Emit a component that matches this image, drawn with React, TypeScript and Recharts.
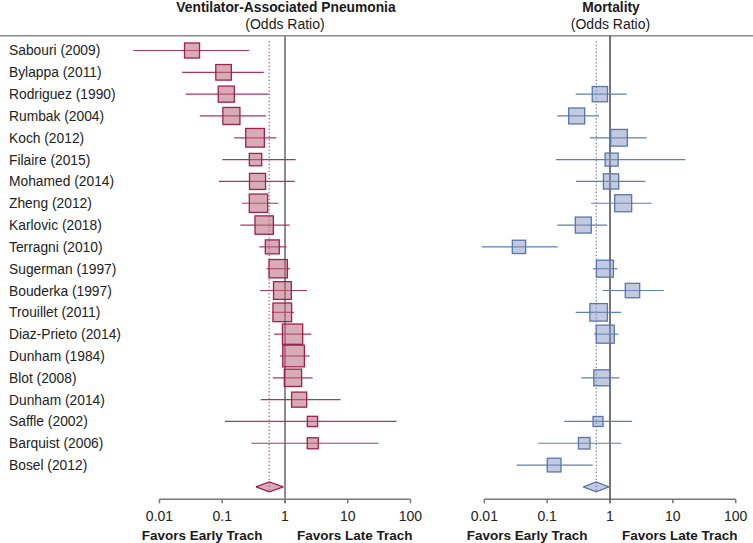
import React from 'react';
import { ComposedChart, Scatter, ErrorBar, XAxis, YAxis, ReferenceLine, Area } from 'recharts';

// ---------- data ----------
const studies = [
  'Sabouri (2009)', 'Bylappa (2011)', 'Rodriguez (1990)', 'Rumbak (2004)', 'Koch (2012)',
  'Filaire (2015)', 'Mohamed (2014)', 'Zheng (2012)', 'Karlovic (2018)', 'Terragni (2010)',
  'Sugerman (1997)', 'Bouderka (1997)', 'Trouillet (2011)', 'Diaz-Prieto (2014)', 'Dunham (1984)',
  'Blot (2008)', 'Dunham (2014)', 'Saffle (2002)', 'Barquist (2006)', 'Bosel (2012)',
];

// Ventilator-associated pneumonia: odds ratio, 95% CI, relative weight (%)
const vapOR = [0.033, 0.105, 0.116, 0.14, 0.333, 0.339, 0.365, 0.378, 0.466, 0.628, 0.78, 0.91, 0.905, 1.32, 1.37, 1.34, 1.68, 2.74, 2.77, null];
const vapLow = [0.0038, 0.023, 0.026, 0.044, 0.155, 0.1, 0.088, 0.206, 0.194, 0.39, 0.51, 0.4, 0.62, 0.67, 0.83, 0.64, 0.41, 0.11, 0.29, null];
const vapHigh = [0.27, 0.46, 0.55, 0.5, 0.73, 1.48, 1.43, 0.78, 1.19, 1.06, 1.2, 2.24, 1.39, 2.63, 2.47, 2.76, 7.7, 60, 31, null];
const vapWeight = [4.3, 4.6, 4.9, 5.5, 6.6, 2.9, 4.9, 6.4, 6.4, 3.7, 6.4, 6.0, 6.6, 7.8, 8.9, 5.7, 4.3, 2.0, 2.3, null];
const vapPooled = { or: 0.56, low: 0.345, high: 0.94 };

// Mortality: odds ratio, 95% CI, relative weight (%)
const mortOR = [null, null, 0.69, 0.295, 1.39, 1.06, 1.04, 1.62, 0.376, 0.0356, 0.83, 2.28, 0.66, 0.84, null, 0.74, null, 0.645, 0.389, 0.129];
const mortLow = [null, null, 0.284, 0.145, 0.48, 0.138, 0.288, 0.5, 0.145, 0.0091, 0.54, 0.765, 0.284, 0.556, null, 0.35, null, 0.187, 0.072, 0.0327];
const mortHigh = [null, null, 1.84, 0.67, 3.84, 15.8, 3.65, 4.6, 0.9, 0.147, 1.31, 7.16, 1.5, 1.36, null, 1.41, null, 2.24, 1.5, 0.53];
const mortWeight = [null, null, 6.3, 6.9, 7.5, 4.6, 6.3, 7.8, 6.9, 4.8, 7.8, 5.6, 8.3, 8.8, null, 6.9, null, 2.7, 3.6, 5.1];
const mortPooled = { or: 0.605, low: 0.376, high: 0.96 };

const xTicks = [0.01, 0.1, 1, 10, 100];
const xTickLabels = ['0.01', '0.1', '1', '10', '100'];
const favorsLeft = 'Favors Early Trach';
const favorsRight = 'Favors Late Trach';

// ---------- layout / style constants ----------
const FONT = '"Liberation Sans", Arial, Helvetica, sans-serif';
const H = 543;
const ROW_DOMAIN = [-0.6645, 20.568];
const POOLED_ROW = 20;
const DIAMOND_HALF = 0.229;
const rowTicks = studies.map((_, i) => i);

function buildRows(or, low, high, weight) {
  return studies
    .map((name, i) =>
      or[i] == null
        ? null
        : { name, row: i, x: or[i], err: [or[i] - low[i], high[i] - or[i]], weight: weight[i] }
    )
    .filter(Boolean);
}

function buildDiamond(p) {
  return [
    { x: p.low, band: [POOLED_ROW, POOLED_ROW] },
    { x: p.or, band: [POOLED_ROW - DIAMOND_HALF, POOLED_ROW + DIAMOND_HALF] },
    { x: p.high, band: [POOLED_ROW, POOLED_ROW] },
  ];
}

const vapRows = buildRows(vapOR, vapLow, vapHigh, vapWeight);
const mortRows = buildRows(mortOR, mortLow, mortHigh, mortWeight);

function makeBox(k, fill, fillOpacity, stroke) {
  return (props) => {
    const { cx, cy, payload } = props;
    if (cx == null || cy == null) return <g />;
    const s = Math.sqrt(payload.weight) * k;
    return (
      <rect
        x={cx - s / 2}
        y={cy - s / 2}
        width={s}
        height={s}
        fill={fill}
        fillOpacity={fillOpacity}
        stroke={stroke}
        strokeWidth={1.3}
      />
    );
  };
}

const StudyTick = (props) => {
  const { y, payload } = props;
  return (
    <text x={9} y={y} dy={5} fontSize={13.8} fill="#222" textAnchor="start" fontFamily={FONT}>
      {studies[payload.value]}
    </text>
  );
};

const FavorsLabel = (props) => {
  const vb = props.viewBox || {};
  const x = vb.x;
  return (
    <g>
      <text x={x - 22.5} y={539.5} textAnchor="end" fontWeight="bold" fontSize={13.5} fill="#1a1a1a" fontFamily={FONT}>
        {favorsLeft}
      </text>
      <text x={x + 12} y={539.5} textAnchor="start" fontWeight="bold" fontSize={13.5} fill="#1a1a1a" fontFamily={FONT}>
        {favorsRight}
      </text>
    </g>
  );
};

function Panel(props) {
  const {
    rows, pooled, xDomain, width, margin, boxK, fill, fillOpacity, boxStroke, lineColor,
    dotColor, oneColor, oneWidth, showLabels,
  } = props;
  const diamond = buildDiamond(pooled);
  const Box = makeBox(boxK, fill, fillOpacity, boxStroke);
  return (
    <ComposedChart width={width} height={H} data={diamond} margin={margin}>
      <XAxis
        dataKey="x"
        type="number"
        scale="log"
        domain={xDomain}
        allowDataOverflow
        ticks={xTicks}
        interval={0}
        tickFormatter={(v) => xTickLabels[xTicks.indexOf(v)] ?? String(v)}
        axisLine={false}
        tickLine={{ stroke: '#777', strokeWidth: 1.5 }}
        tickSize={4}
        tickMargin={7.5}
        height={43.7}
        tick={{ fontSize: 14, fill: '#222', fontFamily: FONT }}
      />
      <YAxis
        dataKey="row"
        type="number"
        domain={ROW_DOMAIN}
        allowDataOverflow
        reversed
        width={1}
        hide={!showLabels}
        ticks={rowTicks}
        interval={0}
        axisLine={false}
        tickLine={false}
        tick={showLabels ? StudyTick : false}
      />
      <ReferenceLine
        segment={[{ x: 0.01, y: ROW_DOMAIN[1] }, { x: 100, y: ROW_DOMAIN[1] }]}
        stroke="#777"
        strokeWidth={1.5}
        ifOverflow="visible"
      />
      <ReferenceLine
        segment={[{ x: 1, y: ROW_DOMAIN[0] }, { x: 1, y: 20.75 }]}
        stroke={oneColor}
        strokeWidth={oneWidth}
        ifOverflow="visible"
        label={FavorsLabel}
      />
      <ReferenceLine
        segment={[{ x: pooled.or, y: -0.42 }, { x: pooled.or, y: POOLED_ROW + 0.2 }]}
        stroke={dotColor}
        strokeWidth={1.2}
        strokeDasharray="1.2 2.3"
        ifOverflow="visible"
      />
      <Area
        dataKey="band"
        type="linear"
        fill={fill}
        fillOpacity={fillOpacity}
        stroke={boxStroke}
        strokeWidth={1.3}
        dot={false}
        activeDot={false}
        isAnimationActive={false}
      />
      <Scatter data={rows} shape={Box} isAnimationActive={false}>
        <ErrorBar dataKey="err" direction="x" width={0} stroke={lineColor} strokeWidth={1.2} isAnimationActive={false} />
      </Scatter>
    </ComposedChart>
  );
}

export default function App() {
  return (
    <div style={{ position: 'absolute', left: 0, top: 0, width: 753, height: H, background: '#fff', fontFamily: FONT }}>
      <svg width={753} height={H} style={{ position: 'absolute', left: 0, top: 0 }}>
        <line x1={0} y1={35.7} x2={753} y2={35.7} stroke="#8a8a8a" strokeWidth={1.5} />
        <text x={286} y={11.5} textAnchor="middle" fontWeight="bold" fontSize={13.8} fill="#1a1a1a" fontFamily={FONT}>
          Ventilator-Associated Pneumonia
        </text>
        <text x={285} y={28.7} textAnchor="middle" fontSize={14} fill="#1a1a1a" fontFamily={FONT}>
          (Odds Ratio)
        </text>
        <text x={611} y={11.5} textAnchor="middle" fontWeight="bold" fontSize={13.8} fill="#1a1a1a" fontFamily={FONT}>
          Mortality
        </text>
        <text x={610.5} y={28.7} textAnchor="middle" fontSize={14} fill="#1a1a1a" fontFamily={FONT}>
          (Odds Ratio)
        </text>
      </svg>
      <div style={{ position: 'absolute', left: 0, top: 0 }}>
        <Panel
          rows={vapRows}
          pooled={vapPooled}
          xDomain={[0.002, 500]}
          width={460}
          margin={{ top: 36, bottom: 0, left: 114.63, right: 5.65 }}
          boxK={7.26}
          fill="#b8687c"
          fillOpacity={0.55}
          boxStroke="#a01f4e"
          lineColor="#ad3660"
          dotColor="#b5476c"
          oneColor="#8c8c8c"
          oneWidth={2}
          showLabels
        />
      </div>
      <div style={{ position: 'absolute', left: 0, top: 0 }}>
        <Panel
          rows={mortRows}
          pooled={mortPooled}
          xDomain={[0.005, 150]}
          width={753}
          margin={{ top: 36, bottom: 0, left: 465.38, right: 6.23 }}
          boxK={6.08}
          fill="#8896c0"
          fillOpacity={0.5}
          boxStroke="#5577ad"
          lineColor="#5b7fb5"
          dotColor="#5a78b5"
          oneColor="#3a3a3a"
          oneWidth={1.4}
          showLabels={false}
        />
      </div>
    </div>
  );
}
